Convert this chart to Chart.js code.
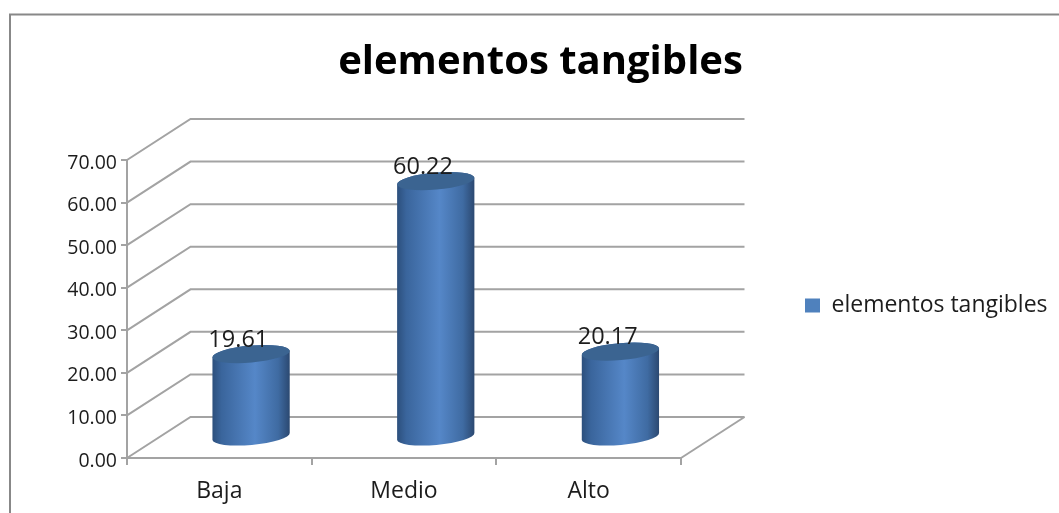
<!DOCTYPE html>
<html>
<head>
<meta charset="utf-8">
<title>elementos tangibles</title>
<script src="https://cdn.jsdelivr.net/npm/chart.js@4"></script>
<style>
  html, body { margin: 0; padding: 0; background: #fff; overflow: hidden; }
  canvas { display: block; }
</style>
</head>
<body>
<canvas id="chart" width="1059" height="513"></canvas>
<script>
    const categories = ['Baja', 'Medio', 'Alto'];
    const values = [19.61, 60.22, 20.17];
    const seriesName = 'elementos tangibles';

    const FONT = '"Open Sans", sans-serif';
    const LINE = '#a3a3a3';
    // how far the back wall sits from the front axes
    const DEPTH_X = 63.5;
    const DEPTH_Y = -41;

    function drawCylinder(ctx, cx, top, bottom, rx) {
      const ry = 8.5;
      const rot = -5 * Math.PI / 180;
      const grad = ctx.createLinearGradient(cx - rx, 0, cx + rx, 0);
      grad.addColorStop(0, '#2c4f7c');
      grad.addColorStop(0.12, '#3a659c');
      grad.addColorStop(0.55, '#5587c8');
      grad.addColorStop(0.85, '#3f6ba2');
      grad.addColorStop(1, '#2b4870');

      ctx.beginPath();
      ctx.ellipse(cx, bottom, rx, ry, rot, 0, Math.PI);
      ctx.ellipse(cx, top, rx, ry, rot, Math.PI, 2 * Math.PI);
      ctx.closePath();
      ctx.fillStyle = grad;
      ctx.fill();

      ctx.beginPath();
      ctx.ellipse(cx, top, rx, ry, rot, 0, 2 * Math.PI);
      ctx.fillStyle = '#3b6491';
      ctx.fill();
    }

    const scene3d = {
      id: 'scene3d',
      beforeDraw(chart) {
        const ctx = chart.ctx;
        ctx.save();
        ctx.strokeStyle = '#888888';
        ctx.lineWidth = 2;
        ctx.beginPath();
        ctx.moveTo(10, 513);
        ctx.lineTo(10, 14.5);
        ctx.lineTo(1059, 14.5);
        ctx.stroke();
        ctx.restore();
      },
      afterLayout(chart) {
        // chartArea legend takes no room from the plot, so place it by hand
        const legend = chart.legend;
        legend.left = 798;
        legend.right = 1059;
        legend.top = 287;
        legend.bottom = 327;
        chart.titleBlock.left = 12;
        chart.titleBlock.right = 1069;
      },
      beforeDatasetsDraw(chart) {
        const ctx = chart.ctx;
        const x0 = chart.scales.x.left;
        const x1 = chart.scales.x.right;
        const yScale = chart.scales.y;
        ctx.save();
        ctx.strokeStyle = LINE;
        ctx.lineWidth = 2;
        yScale.ticks.forEach(t => {
          const y = yScale.getPixelForValue(t.value);
          ctx.beginPath();
          ctx.moveTo(x0, y);
          ctx.lineTo(x0 + DEPTH_X, y + DEPTH_Y);
          ctx.lineTo(x1 + DEPTH_X, y + DEPTH_Y);
          ctx.stroke();
        });
        // right edge of the floor
        const yZero = yScale.getPixelForValue(0);
        ctx.beginPath();
        ctx.moveTo(x1, yZero);
        ctx.lineTo(x1 + DEPTH_X, yZero + DEPTH_Y);
        ctx.stroke();
        ctx.restore();
      },
      beforeDatasetDraw(chart, args) {
        const ctx = chart.ctx;
        const meta = chart.getDatasetMeta(args.index);
        ctx.save();
        meta.data.forEach((bar, i) => {
          // bars stand halfway between the front axis and the back wall
          const cx = bar.x + DEPTH_X / 2;
          const top = bar.y + DEPTH_Y / 2;
          const bottom = bar.base + DEPTH_Y / 2;
          drawCylinder(ctx, cx, top, bottom, bar.width / 2);
          ctx.fillStyle = '#1c1c1c';
          ctx.font = '23.5px ' + FONT;
          ctx.textAlign = 'center';
          ctx.textBaseline = 'middle';
          ctx.fillText(values[i].toFixed(2), bar.x + 19, top - 14);
        });
        ctx.restore();
        return false;
      }
    };

    new Chart(document.getElementById('chart'), {
      type: 'bar',
      data: {
        labels: categories,
        datasets: [{
          label: seriesName,
          data: values,
          backgroundColor: '#4f81bd',
          barPercentage: 0.42,
          categoryPercentage: 1
        }]
      },
      plugins: [scene3d],
      options: {
        responsive: false,
        animation: false,
        layout: { padding: { left: 0, right: 378, top: 20, bottom: 0 } },
        plugins: {
          tooltip: { enabled: false },
          title: {
            display: true,
            text: seriesName,
            color: '#000',
            font: { family: FONT, size: 40, weight: 'bold', lineHeight: 1.2 },
            padding: { top: 19, bottom: 73 }
          },
          legend: {
            position: 'chartArea',
            align: 'start',
            labels: {
              boxWidth: 15,
              boxHeight: 14,
              padding: 7,
              color: '#1c1c1c',
              font: { family: FONT, size: 23 }
            }
          }
        },
        scales: {
          x: {
            afterFit(scale) { scale.height = 55; },
            border: { color: LINE, width: 2 },
            grid: { drawOnChartArea: false, color: LINE, lineWidth: 2, tickLength: 7 },
            ticks: { color: '#1c1c1c', padding: 13, font: { family: FONT, size: 23 } }
          },
          y: {
            min: 0,
            max: 70,
            afterFit(scale) { scale.width = 127; },
            border: { color: LINE, width: 2 },
            grid: { drawOnChartArea: false, color: LINE, lineWidth: 2, tickLength: 6 },
            ticks: {
              stepSize: 10,
              color: '#1c1c1c',
              padding: 4,
              labelOffset: 3,
              font: { family: FONT, size: 19.5 },
              callback: v => v.toFixed(2)
            }
          }
        }
      }
    });
</script>
</body>
</html>
